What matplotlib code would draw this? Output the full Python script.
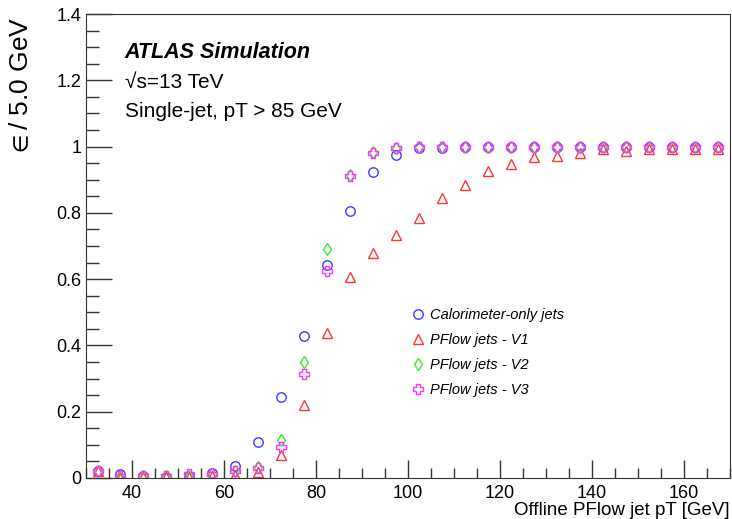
import numpy as np
import matplotlib
matplotlib.use("Agg")
import matplotlib.pyplot as plt
from matplotlib.path import Path
from matplotlib.ticker import MultipleLocator

plt.rcParams['font.family'] = ['Liberation Sans', 'DejaVu Sans']
plt.rcParams['mathtext.fontset'] = 'stixsans'

# bin centres of the 5 GeV bins
pt = np.arange(32.5, 170, 5.0)

calo = [0.022, 0.013, 0.005, 0.004, 0.007, 0.015, 0.037, 0.109, 0.244, 0.429,
        0.643, 0.807, 0.924, 0.976, 0.995, 0.997, 0.998, 0.998, 0.999, 0.999,
        0.999, 0.999, 0.999, 0.999, 0.999, 0.999, 0.999, 0.999]
v1 = [0.020, 0.000, 0.003, 0.002, 0.004, 0.007, 0.010, 0.019, 0.070, 0.220,
      0.439, 0.607, 0.680, 0.734, 0.783, 0.844, 0.883, 0.927, 0.948, 0.968,
      0.973, 0.981, 0.993, 0.986, 0.993, 0.993, 0.993, 0.993]
v2 = [0.020, 0.004, 0.005, 0.005, 0.006, 0.012, 0.020, 0.033, 0.116, 0.351,
      0.691, 0.915, 0.983, 0.996, 0.998, 0.999, 0.999, 0.999, 0.999, 0.999,
      0.999, 0.999, 0.999, 0.999, 0.999, 0.999, 0.999, 0.999]
v3 = [0.020, 0.005, 0.007, 0.006, 0.011, 0.013, 0.020, 0.030, 0.095, 0.314,
      0.626, 0.910, 0.981, 0.996, 0.998, 0.999, 0.999, 0.999, 0.999, 0.999,
      0.999, 0.999, 0.999, 0.999, 0.999, 0.999, 0.999, 0.999]

labels = ['Calorimeter-only jets', 'PFlow jets - V1', 'PFlow jets - V2', 'PFlow jets - V3']

# open cross marker (ROOT style 28)
a = 1 / 3
cross = Path([(-a, 1), (a, 1), (a, a), (1, a), (1, -a), (a, -a), (a, -1), (-a, -1),
              (-a, -a), (-1, -a), (-1, a), (-a, a), (-a, 1)], closed=True)

fig = plt.figure(figsize=(7.32, 5.19), dpi=100)
ax = fig.add_axes([0.1175, 0.079, 0.8795, 0.894])

ax.plot(pt, calo, ls='none', marker='o', ms=6.8, mfc='none', mec='#3b3bff', mew=1.0, label=labels[0])
ax.plot(pt, v1, ls='none', marker='^', ms=7, mfc='none', mec='#ff3535', mew=1.0, label=labels[1])
ax.plot(pt, v2, ls='none', marker='d', ms=6.3, mfc='none', mec='#33ee33', mew=1.0, label=labels[2])
ax.plot(pt, v3, ls='none', marker=cross, ms=6.8, mfc='none', mec='#ff35ff', mew=1.0, label=labels[3])

ax.set_xlim(30, 170)
ax.set_ylim(0, 1.4)
ax.xaxis.set_major_locator(MultipleLocator(20))
ax.xaxis.set_minor_locator(MultipleLocator(5))
ax.yaxis.set_minor_locator(MultipleLocator(0.05))
ax.set_yticks([0, 0.2, 0.4, 0.6, 0.8, 1, 1.2, 1.4])
ax.set_yticklabels(['0', '0.2', '0.4', '0.6', '0.8', '1', '1.2', '1.4'])
ax.tick_params(which='both', direction='in', labelsize=13, width=1.0, color='#333333')
ax.tick_params(which='major', axis='y', length=19)
ax.tick_params(which='minor', axis='y', length=9)
ax.tick_params(which='major', axis='x', length=13)
ax.tick_params(which='minor', axis='x', length=7)
ax.tick_params(axis='x', pad=5)
for s in ax.spines.values():
    s.set_color('#333333')

ax.text(0.06, 0.918, 'ATLAS Simulation', transform=ax.transAxes, fontsize=15.5,
        fontweight='bold', fontstyle='italic', va='center')
ax.text(0.06, 0.853, '√s=13 TeV', transform=ax.transAxes, fontsize=15, va='center')
ax.text(0.06, 0.789, 'Single-jet, pT > 85 GeV', transform=ax.transAxes, fontsize=15, va='center')

leg = ax.legend(loc='upper left', bbox_to_anchor=(0.487, 0.395), frameon=False,
                handlelength=0.8, handletextpad=0.4, labelspacing=0.75,
                prop={'style': 'italic', 'size': 10.5})

fig.text(0.029, 0.968, r'$\in$/ 5.0 GeV', rotation=90, ha='center', va='top', fontsize=19)
fig.text(0.997, 0.0, 'Offline PFlow jet pT [GeV]', ha='right', va='bottom', fontsize=13.5)

fig.savefig('out.png', dpi=100)
